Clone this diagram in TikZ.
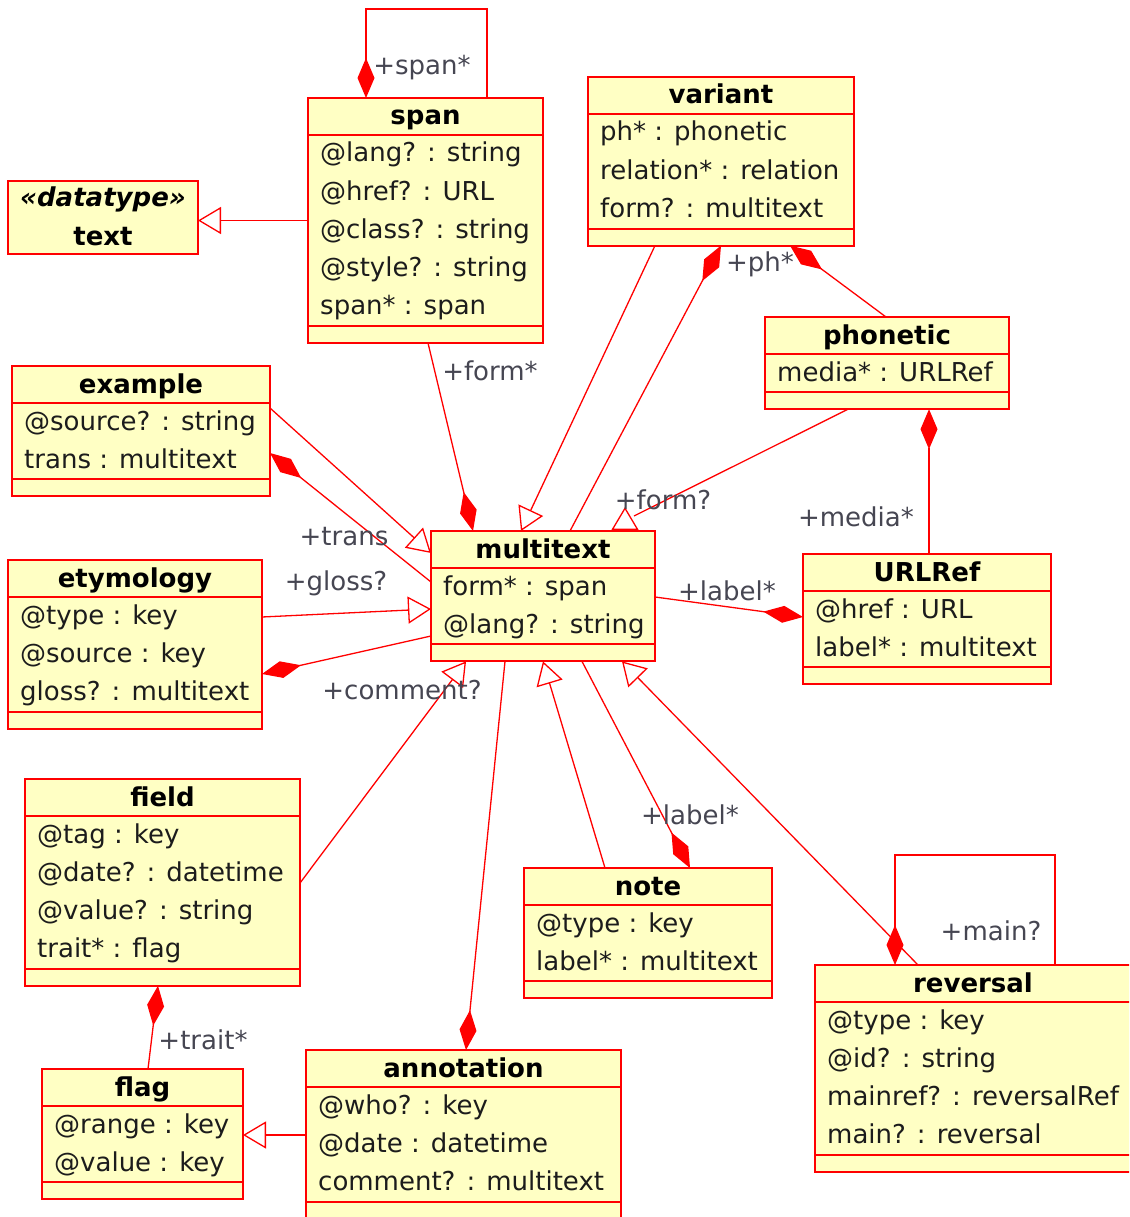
\documentclass[tikz,border=0pt]{standalone}
\usepackage{fontspec}
\setmainfont{DejaVu Sans}
\usetikzlibrary{arrows.meta}

\definecolor{clsfill}{RGB}{255,255,196}
\definecolor{lblgray}{RGB}{70,70,82}
\definecolor{attrblack}{RGB}{28,28,28}

% class box: name, top-left corner, width, title, number of lines, attributes
\newcommand{\umlclass}[6]{%
  \node[cls, anchor=north west, minimum width=#3, minimum height={54+38.2*#5}] (#1) at #2 {};
  \draw[sep] ([yshift=-37]#1.north west) -- ([yshift=-37]#1.north east);
  \draw[sep] ([yshift=17]#1.south west) -- ([yshift=17]#1.south east);
  \node[ttl] (#1-title) at ([yshift=-27]#1.north) {#4};
  \foreach \attr [count=\i] in {#6}
    \node[attr] (#1-a\i) at ([xshift=12, yshift={-64-38.2*(\i-1)}]#1.north west) {\attr};
}

\begin{document}
\begin{tikzpicture}[
    x=1pt, y=-1pt,
    font=\fontsize{26}{31}\selectfont,
    cls/.style={
        draw=red,
        fill=clsfill,
        rectangle,
        line width=2pt,
        inner sep=0pt,
        outer sep=0pt
    },
    sep/.style={draw=red, line width=2pt},
    ttl/.style={anchor=base, inner sep=0pt, font=\fontsize{26}{31}\selectfont\bfseries},
    attr/.style={anchor=base west, inner sep=0pt, text=attrblack},
    lbl/.style={inner sep=0pt, text=lblgray},
    assoc/.style={draw=red, line width=1.3pt},
    comp/.style={assoc, -{Diamond[length=40pt, width=17pt]}},
    gen/.style={assoc, -{Triangle[open, length=23pt, width=27pt]}}
]
\path[use as bounding box, clip] (0,0) rectangle (1129,1217);
\fill[white] (0,0) rectangle (1129,1217);

% classes
\node[cls, anchor=north west, minimum width=190, minimum height=73] (text) at (8,181) {};
\node[ttl] (text-stereo) at ([yshift=-26]text.north) {\itshape «datatype»};
\node[ttl] (text-title) at ([yshift=-64]text.north) {text};

\umlclass{span}{(308,98)}{235}{span}{5}{@lang? : string, @href? : URL, @class? : string, @style? : string, span* : span}
\umlclass{variant}{(588,77)}{266}{variant}{3}{ph* : phonetic, relation* : relation, form? : multitext}
\umlclass{phonetic}{(765,317)}{244}{phonetic}{1}{media* : URLRef}
\umlclass{example}{(12,366)}{258}{example}{2}{@source? : string, trans : multitext}
\umlclass{multitext}{(431,531)}{224}{multitext}{2}{form* : span, @lang? : string}
\umlclass{urlref}{(803,554)}{248}{URLRef}{2}{@href : URL, label* : multitext}
\umlclass{etymology}{(8,560)}{254}{etymology}{3}{@type : key, @source : key, gloss? : multitext}
\umlclass{field}{(25,779)}{275}{field}{4}{@tag : key, @date? : datetime, @value? : string, trait* : flag}
\umlclass{note}{(524,868)}{248}{note}{2}{@type : key, label* : multitext}
\umlclass{reversal}{(815,965)}{316}{reversal}{4}{@type : key, @id? : string, mainref? : reversalRef, main? : reversal}
\umlclass{flag}{(42,1069)}{201}{flag}{2}{@range : key, @value : key}
\umlclass{annotation}{(306,1050)}{315}{annotation}{3}{@who? : key, @date : datetime, comment? : multitext}

% connectors
\coordinate (formtip) at ([xshift=203, yshift=15]multitext.north west);

\draw[gen] (span.west) -- (span.west -| text.east);
\draw[comp] ([xshift=179]span.north west) -- ++(0,-89) -| ([xshift=58]span.north west);
\draw[comp] ([xshift=120]span.south west) -- ([xshift=42]multitext.north west);
\draw[gen] ([xshift=67]variant.south west) -- ([xshift=90]multitext.north west);
\draw[comp] ([xshift=139]multitext.north west) -- ([xshift=133]variant.south west);
\draw[comp] ([xshift=121]phonetic.north west) -- ([xshift=202]variant.south west);
\draw[assoc] ([xshift=83]phonetic.south west) -- (formtip);
\draw[gen] ([xshift=194]multitext.north west) -- ++(0,-24);
\draw[comp] ([xshift=126]urlref.north west) -- ([xshift=164]phonetic.south west);
\draw[comp] ([yshift=-66]multitext.north east) -- ([yshift=-63]urlref.north west);
\draw[gen] ([yshift=-42]example.north east) -- ([yshift=-22]multitext.north west);
\draw[comp] ([yshift=-51]multitext.north west) -- ([yshift=-87]example.north east);
\draw[gen] ([yshift=-57]etymology.north east) -- ([yshift=-78]multitext.north west);
\draw[comp] ([yshift=-105]multitext.north west) -- ([yshift=-114]etymology.north east);
\draw[gen] ([yshift=-104]field.north east) -- ([xshift=35]multitext.south west);
\draw[comp] ([xshift=74]multitext.south west) -- ([xshift=160]annotation.north west);
\draw[gen] ([xshift=81]note.north west) -- ([xshift=112]multitext.south west);
\draw[comp] ([xshift=151]multitext.south west) -- ([xshift=166]note.north west);
\draw[gen] ([xshift=103]reversal.north west) -- ([xshift=191]multitext.south west);
\draw[comp] ([xshift=240]reversal.north west) -- ++(0,-110) -| ([xshift=80]reversal.north west);
\draw[comp] ([xshift=106]flag.north west) -- ([xshift=133]field.south west);
\draw[gen] ([yshift=-85]annotation.north west) -- ([yshift=-66]flag.north east);

% role labels
\node[lbl] (lbl-span) at (422,68) {+span*};
\node[lbl] (lbl-form) at (490,371) {+form*};
\node[lbl] (lbl-ph) at (760,264) {+ph*};
\node[lbl] (lbl-formopt) at (663,500) {+form?};
\node[lbl] (lbl-media) at (856,517) {+media*};
\node[lbl] (lbl-label) at (727,591) {+label*};
\node[lbl] (lbl-trans) at (344,537) {+trans};
\node[lbl] (lbl-gloss) at (336,583) {+gloss?};
\node[lbl] (lbl-comment) at (402,690) {+comment?};
\node[lbl] (lbl-notelabel) at (690,815) {+label*};
\node[lbl] (lbl-main) at (991,931) {+main?};
\node[lbl] (lbl-trait) at (203,1040) {+trait*};
\end{tikzpicture}
\end{document}
